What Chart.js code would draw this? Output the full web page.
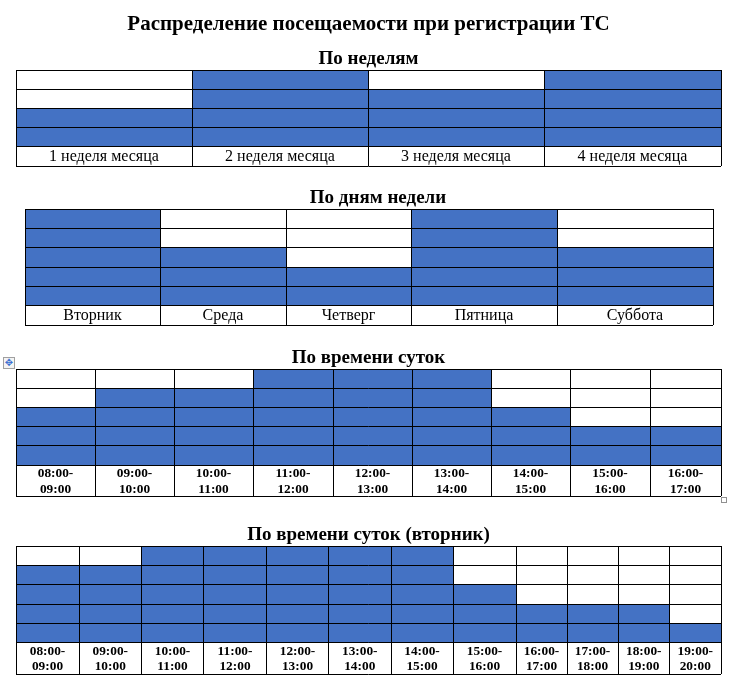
<!DOCTYPE html>
<html><head><meta charset="utf-8">
<script src="https://cdn.jsdelivr.net/npm/chart.js@4.4.0/dist/chart.umd.min.js"></script>
<style>
html,body{margin:0;padding:0;background:#fff;}
body{width:738px;height:684px;overflow:hidden;position:relative;}
canvas{position:absolute;display:block;}
#mv{position:absolute;left:3px;top:357px;width:10px;height:10px;border:1px solid #a0a0a0;background:#f4f4f4;color:#3a6fd0;font:10px/10px "DejaVu Sans";text-align:center;}
#sq{position:absolute;left:721px;top:497px;width:4px;height:4px;border:1px solid #909090;background:#fff;}
</style></head><body>
<canvas id="c1" width="738" height="176" style="left:0;top:0"></canvas>
<canvas id="c2" width="738" height="145" style="left:0;top:188px"></canvas>
<canvas id="c3" width="738" height="154" style="left:0;top:348px"></canvas>
<canvas id="c4" width="738" height="159" style="left:0;top:525px"></canvas>
<div id="mv">✥</div><div id="sq"></div>
<script>
// ---- data ----
const mainTitle = 'Распределение посещаемости при регистрации ТС';
const weekTitle = 'По неделям';
const weekLabels = ['1 неделя месяца', '2 неделя месяца', '3 неделя месяца', '4 неделя месяца'];
const weekValues = [2, 4, 3, 4];
const weekLevels = 4;

const dayTitle = 'По дням недели';
const dayLabels = ['Вторник', 'Среда', 'Четверг', 'Пятница', 'Суббота'];
const dayValues = [5, 3, 2, 5, 3];
const dayLevels = 5;

const hourTitle = 'По времени суток';
const hourLabels = ['08:00-09:00', '09:00-10:00', '10:00-11:00', '11:00-12:00', '12:00-13:00',
                    '13:00-14:00', '14:00-15:00', '15:00-16:00', '16:00-17:00'];
const hourValues = [3, 4, 4, 5, 5, 5, 3, 2, 2];
const hourLevels = 5;

const tueTitle = 'По времени суток (вторник)';
const tueLabels = ['08:00-09:00', '09:00-10:00', '10:00-11:00', '11:00-12:00', '12:00-13:00', '13:00-14:00',
                   '14:00-15:00', '15:00-16:00', '16:00-17:00', '17:00-18:00', '18:00-19:00', '19:00-20:00'];
const tueValues = [4, 4, 5, 5, 5, 5, 5, 3, 2, 2, 2, 1];
const tueLevels = 5;

// ---- layout (column widths in px) ----
const weekWidths = [176, 176, 176, 177];
const dayWidths = [135, 126, 125, 146, 156];
const hourWidths = [79, 79, 79, 80, 79, 79, 79, 80, 71];
const tueWidths = [63, 62.5, 62, 63, 62, 62.5, 62, 63, 51, 51, 51.5, 51.5];

const SERIF = "'Liberation Serif', 'Times New Roman', serif";
const BLUE = '#4472C4';
Chart.defaults.font.family = SERIF;
Chart.defaults.color = '#000';

function build(id, o) {
  const bounds = [0];
  o.widths.forEach(w => bounds.push(bounds[bounds.length - 1] + w));
  const total = bounds[bounds.length - 1];
  const centers = o.widths.map((w, i) => bounds[i] + w / 2);
  const pts = o.values.map((v, i) => ({x: bounds[i], y: v}));
  pts.push({x: total, y: o.values[o.values.length - 1]});
  const xt = bounds.concat(centers).sort((a, b) => a - b);
  const near = (a, b) => Math.abs(a - b) < 1e-6;
  const isB = v => bounds.some(b => near(b, v));
  const labelAt = v => {
    const i = centers.findIndex(c => near(c, v));
    if (i < 0) return '';
    const s = o.labels[i];
    return o.split ? [s.slice(0, 6), s.slice(6)] : s;
  };
  const yt = [-o.labelRow];
  for (let k = 0; k <= o.levels; k++) yt.push(k);
  const plugins = {legend: {display: false}, tooltip: {enabled: false}};
  const secFont = {size: 19, weight: 'bold', lineHeight: '21px'};
  if (o.main) {
    plugins.title = {display: true, text: o.main, color: '#000',
      font: {size: 21, weight: 'bold', lineHeight: '26px'}, padding: {top: 11.5, bottom: 11.5}};
    plugins.subtitle = {display: true, text: o.title, color: '#000',
      font: secFont, padding: {top: 0, bottom: 0}};
  } else {
    plugins.title = {display: true, text: o.title, color: '#000',
      font: secFont, padding: {top: 0, bottom: 0}};
  }
  const yW = o.yWidth || 0;
  new Chart(document.getElementById(id), {
    type: 'line',
    data: {datasets: [{data: pts, stepped: true, fill: {value: 0}, backgroundColor: BLUE,
      borderWidth: 0, borderColor: 'rgba(0,0,0,0)', pointRadius: 0, pointHoverRadius: 0}]},
    options: {
      responsive: false, animation: false, events: [],
      layout: {padding: o.pad},
      plugins,
      scales: {
        x: {
          type: 'linear', position: {y: 0}, min: 0, max: total,
          afterBuildTicks: s => { s.ticks = xt.map(v => ({value: v})); },
          grid: {z: 1, drawTicks: false,
            color: c => (c.tick && !isB(c.tick.value)) ? 'rgba(0,0,0,0)' : '#000',
            lineWidth: c => (c.tick && !isB(c.tick.value)) ? 0 : 1},
          border: {display: false},
          ticks: {autoSkip: false, maxRotation: 0, minRotation: 0, padding: o.tickPad, color: '#000',
            font: o.labelFont, callback: v => labelAt(v)}
        },
        y: {
          type: 'linear', position: o.yPos || 'left', min: -o.labelRow, max: o.levels,
          afterBuildTicks: s => { s.ticks = yt.map(v => ({value: v})); },
          afterFit: s => { s.width = yW; },
          grid: {z: 1, color: '#000', lineWidth: 1, drawTicks: false},
          border: {display: false},
          ticks: {display: false}
        }
      }
    }
  });
}

const normalFont = {size: 16, lineHeight: 1.2};
const boldFont = {size: 13.33, weight: 'bold', lineHeight: '15.3px'};

build('c1', {main: mainTitle, title: weekTitle, labels: weekLabels, values: weekValues, widths: weekWidths,
  levels: weekLevels, labelRow: 1, pad: {left: 16, right: 17, top: 0, bottom: 10}, tickPad: 0.5, labelFont: normalFont});
build('c2', {title: dayTitle, labels: dayLabels, values: dayValues, widths: dayWidths,
  levels: dayLevels, labelRow: 1, yPos: 'right', yWidth: 18,
  pad: {left: 25, right: 7, top: 0, bottom: 8}, tickPad: 0.5, labelFont: normalFont});
build('c3', {title: hourTitle, labels: hourLabels, values: hourValues, widths: hourWidths, split: true,
  levels: hourLevels, labelRow: 1.6, pad: {left: 16, right: 17, top: 0, bottom: 6}, tickPad: 1, labelFont: boldFont});
build('c4', {title: tueTitle, labels: tueLabels, values: tueValues, widths: tueWidths, split: true,
  levels: tueLevels, labelRow: 1.6, pad: {left: 16, right: 17, top: 0, bottom: 10}, tickPad: 1, labelFont: boldFont});
</script>
</body></html>
